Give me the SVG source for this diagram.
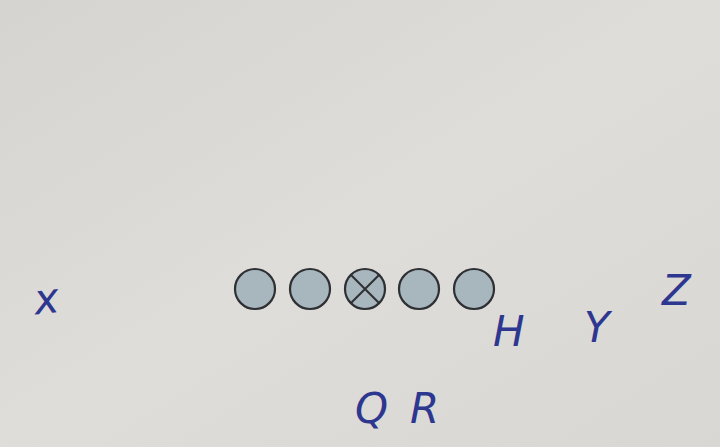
<svg xmlns="http://www.w3.org/2000/svg" width="720" height="447" viewBox="0 0 720 447">
<defs>
<linearGradient id="bg" x1="0" y1="0" x2="1" y2="1">
<stop offset="0" stop-color="#d6d4d0"/>
<stop offset="0.5" stop-color="#dfddd9"/>
<stop offset="1" stop-color="#d9d7d3"/>
</linearGradient>
<linearGradient id="edge" x1="0" y1="0" x2="0" y2="1">
<stop offset="0" stop-color="#2a2a2a"/>
<stop offset="0.25" stop-color="#4a4a4a"/>
<stop offset="0.55" stop-color="#a8a6a2"/>
<stop offset="1" stop-color="#c8c6c2"/>
</linearGradient>
<style>
.pl{fill:#a8b6be;stroke:#2e3033;stroke-width:2.2}
.x{stroke:#2e3033;stroke-width:2;fill:none}
.hw{font-family:"DejaVu Sans","Liberation Sans",sans-serif;font-style:italic;fill:#2d3790;font-size:42px}
</style>
</defs>
<rect width="720" height="447" fill="url(#bg)"/>
<line x1="717" y1="0" x2="717" y2="447" stroke="url(#edge)" stroke-width="3"/>
<g id="connectors"/>
<g id="LT"><circle class="pl" cx="255" cy="289" r="20"/></g>
<g id="LG"><circle class="pl" cx="310" cy="289" r="20"/></g>
<g id="C"><circle class="pl" cx="365" cy="289" r="20"/><path class="x" d="M351 275L379 303M379 275L351 303"/></g>
<g id="RG"><circle class="pl" cx="419" cy="289" r="20"/></g>
<g id="RT"><circle class="pl" cx="474" cy="289" r="20"/></g>
<g id="X"><text class="hw" x="34" y="313" font-size="38" font-style="normal" transform="rotate(-6 50 300)">x</text></g>
<g id="H"><text class="hw" x="493" y="346">H</text></g>
<g id="Y"><text class="hw" x="584" y="342">Y</text></g>
<g id="Z"><text class="hw" x="662" y="305">Z</text></g>
<g id="QB"><text class="hw" x="355" y="423">Q</text><text class="hw" x="410" y="423">R</text></g>
</svg>
